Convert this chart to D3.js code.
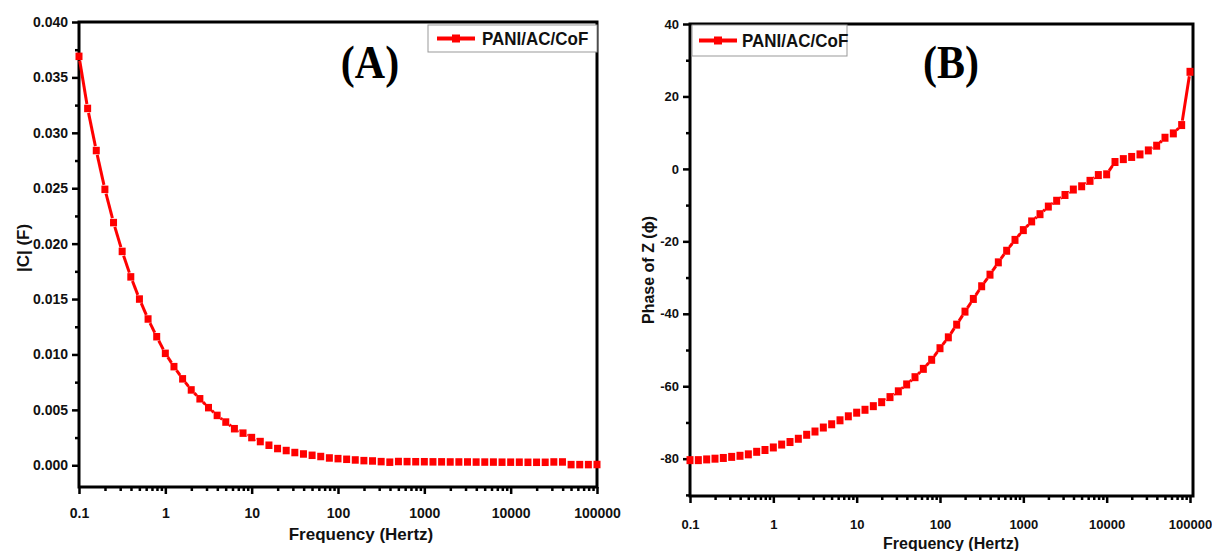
<!DOCTYPE html>
<html><head><meta charset="utf-8">
<script src="https://cdn.jsdelivr.net/npm/d3@7"></script>
<style>body{margin:0;background:#fff}svg{display:block}text{font-family:"Liberation Sans",Arial,sans-serif;font-weight:bold}</style>
</head><body>
<script>
// ---- data ----
const frequency = [0.1,0.1259,0.1585,0.1995,0.2512,0.3162,0.3981,0.5012,0.631,0.7943,
1,1.259,1.585,1.995,2.512,3.162,3.981,5.012,6.31,7.943,
10,12.59,15.85,19.95,25.12,31.62,39.81,50.12,63.1,79.43,
100,125.9,158.5,199.5,251.2,316.2,398.1,501.2,631,794.3,
1000,1259,1585,1995,2512,3162,3981,5012,6310,7943,
10000,12590,15850,19950,25120,31620,39810,50120,63100,79430,
100000];
const capacitance = [0.0369,0.0322,0.0284,0.0249,0.0219,0.0193,0.0170,0.0150,0.0132,0.0116,
0.0101,0.0089,0.0078,0.0068,0.0060,0.0052,0.0045,0.0039,0.0033,0.0029,
0.0025,0.00214,0.00181,0.00151,0.00133,0.00115,0.00102,0.00090,0.00079,0.00066,
0.00060,0.00054,0.00048,0.00042,0.00039,0.00033,0.00028,0.00034,0.00033,0.00032,
0.00032,0.00031,0.00031,0.00030,0.00030,0.00030,0.00029,0.00029,0.00029,0.00028,
0.00028,0.00028,0.00027,0.00027,0.00027,0.00030,0.00030,0.00006,0.00006,0.00006,
0.00007];
const phase = [-80.4,-80.4,-80.2,-80.0,-79.8,-79.5,-79.2,-78.8,-78.1,-77.6,
-76.9,-76.1,-75.4,-74.5,-73.4,-72.5,-71.4,-70.5,-69.4,-68.3,
-67.3,-66.5,-65.5,-64.4,-63.0,-61.4,-59.5,-57.5,-55.2,-52.7,
-49.5,-46.5,-43.0,-39.4,-35.9,-32.4,-29.2,-25.8,-22.6,-19.6,
-16.9,-14.5,-12.5,-10.4,-8.8,-7.2,-5.7,-4.8,-3.3,-1.7,
-1.5,1.9,2.7,3.3,4.0,5.1,6.4,8.6,9.8,12.1,
26.8];
const seriesName = "PANI/AC/CoF";
const xTicks = [0.1,1,10,100,1000,10000,100000];
const xTickLabels = ["0.1","1","10","100","1000","10000","100000"];
const capTicks = [0,0.005,0.010,0.015,0.020,0.025,0.030,0.035,0.040];
const capMinor = [0.0025,0.0075,0.0125,0.0175,0.0225,0.0275,0.0325,0.0375];
const phaseTicks = [-80,-60,-40,-20,0,20,40];
const phaseMinor = [-90,-70,-50,-30,-10,10,30];

// ---- drawing ----
const W = 1212, H = 551;
const svg = d3.select("body").append("svg").attr("width", W).attr("height", H);
const RED = "#ff0000";

const xMinor = [];
for (let e = -1; e < 5; e++) for (let m = 2; m <= 9; m++) xMinor.push(m * Math.pow(10, e));

function panel(c) {
  const g = svg.append("g");
  const x = d3.scaleLog().domain([0.1, 1e5]).range([c.left, c.xEnd]);
  const y = d3.scaleLinear().domain(c.yDomain).range([c.bottom, c.top]);

  // y axis ticks
  const ya = g.append("g").attr("transform", `translate(${c.left},0)`)
    .call(d3.axisLeft(y).tickValues(c.yTicks).tickSize(7).tickPadding(4).tickFormat(c.yFmt));
  ya.select(".domain").remove();
  ya.selectAll("line").attr("stroke", "#000").attr("stroke-width", 2.5);
  ya.selectAll("text").style("font-size", c.tickFont + "px").attr("fill", "#111");
  const ym = g.append("g").attr("transform", `translate(${c.left},0)`)
    .call(d3.axisLeft(y).tickValues(c.yMinor).tickSize(4).tickFormat(""));
  ym.select(".domain").remove();
  ym.selectAll("line").attr("stroke", "#000").attr("stroke-width", 2.5);

  // x axis ticks
  const xa = g.append("g").attr("transform", `translate(0,${c.bottom})`)
    .call(d3.axisBottom(x).tickValues(xTicks).tickSize(7).tickPadding(c.xPad)
      .tickFormat((d, i) => xTickLabels[i]));
  xa.select(".domain").remove();
  xa.selectAll("line").attr("stroke", "#000").attr("stroke-width", 2.5);
  xa.selectAll("text").style("font-size", c.tickFont + "px").attr("fill", "#111");
  const xm = g.append("g").attr("transform", `translate(0,${c.bottom})`)
    .call(d3.axisBottom(x).tickValues(xMinor).tickSize(4).tickFormat(""));
  xm.select(".domain").remove();
  xm.selectAll("line").attr("stroke", "#000").attr("stroke-width", 2.5);

  // frame
  g.append("rect").attr("x", c.left).attr("y", c.top)
    .attr("width", c.right - c.left).attr("height", c.bottom - c.top)
    .attr("fill", "none").attr("stroke", "#000").attr("stroke-width", 3);

  // series: line segments with a gap around each symbol, then symbols
  const pts = frequency.map((f, i) => [x(f), y(c.values[i])]);
  const gap = c.mk / 2 + 1;
  const segs = [];
  for (let i = 0; i < pts.length - 1; i++) {
    const [x1, y1] = pts[i], [x2, y2] = pts[i + 1];
    const len = Math.hypot(x2 - x1, y2 - y1);
    if (len > 2 * gap + 0.5) {
      const ux = (x2 - x1) / len, uy = (y2 - y1) / len;
      segs.push([x1 + ux * gap, y1 + uy * gap, x2 - ux * gap, y2 - uy * gap]);
    }
  }
  g.selectAll("line.seg").data(segs).enter().append("line").attr("class", "seg")
    .attr("x1", d => d[0]).attr("y1", d => d[1]).attr("x2", d => d[2]).attr("y2", d => d[3])
    .attr("stroke", RED).attr("stroke-width", 3);
  g.selectAll("rect.mk").data(pts).enter().append("rect").attr("class", "mk")
    .attr("x", d => d[0] - c.mk / 2).attr("y", d => d[1] - c.mkH / 2)
    .attr("width", c.mk).attr("height", c.mkH).attr("fill", RED);

  // legend
  const L = c.legend;
  g.append("rect").attr("x", L.x).attr("y", L.y).attr("width", L.w).attr("height", L.h)
    .attr("fill", "#fff").attr("stroke", "#999").attr("stroke-width", 1);
  g.append("line").attr("x1", L.x + L.l1).attr("x2", L.x + L.l2)
    .attr("y1", L.y + L.h / 2).attr("y2", L.y + L.h / 2)
    .attr("stroke", RED).attr("stroke-width", 4);
  g.append("rect").attr("x", L.x + (L.l1 + L.l2) / 2 - 4).attr("y", L.y + L.h / 2 - 4)
    .attr("width", 8).attr("height", 8).attr("fill", RED);
  g.append("text").attr("transform", `translate(${L.x + L.tx},${L.y + L.h / 2 + L.fs * 0.4}) scale(1,1.12)`)
    .style("font-size", L.fs + "px").attr("fill", "#111").text(seriesName);

  // panel label
  g.append("text").attr("transform", `translate(${c.tag[0]},${c.tag[1]}) scale(1,1.12)`)
    .attr("text-anchor", "middle")
    .style("font-family", "'Liberation Serif','Times New Roman',serif")
    .style("font-size", "42px").text(c.tagText);

  // axis titles
  g.append("text").attr("x", c.xTitle[0]).attr("y", c.xTitle[1]).attr("text-anchor", "middle")
    .style("font-size", c.titleFont + "px").attr("fill", "#111").text("Frequency (Hertz)");
  g.append("text").attr("transform", `translate(${c.yTitle[0]},${c.yTitle[1]}) rotate(-90)`)
    .attr("text-anchor", "middle").style("font-size", c.titleFont + "px").attr("fill", "#111")
    .text(c.yTitleText);
}

panel({
  left: 79, right: 597, xEnd: 597, top: 22, bottom: 487,
  yDomain: [-0.00196, 0.040], yTicks: capTicks, yMinor: capMinor,
  yFmt: d3.format(".3f"), tickFont: 14, xPad: 14, mk: 7, mkH: 7.5,
  values: capacitance,
  legend: {x: 428, y: 25, w: 169, h: 27, l1: 9, l2: 47, tx: 54, fs: 17},
  tag: [370, 78], tagText: "(A)",
  xTitle: [361, 540], yTitle: [29, 248], titleFont: 17, yTitleText: "|C| (F)"
});

panel({
  left: 690, right: 1193, xEnd: 1190, top: 24, bottom: 496,
  yDomain: [-90.3, 40], yTicks: phaseTicks, yMinor: phaseMinor,
  yFmt: d => String(d), tickFont: 13, xPad: 17, mk: 7, mkH: 8,
  values: phase,
  legend: {x: 692, y: 25, w: 155, h: 31, l1: 7, l2: 45, tx: 50, fs: 17},
  tag: [951, 78], tagText: "(B)",
  xTitle: [951, 549], yTitle: [654, 270], titleFont: 16, yTitleText: "Phase of Z (\u03D5)"
});
</script>
</body></html>
